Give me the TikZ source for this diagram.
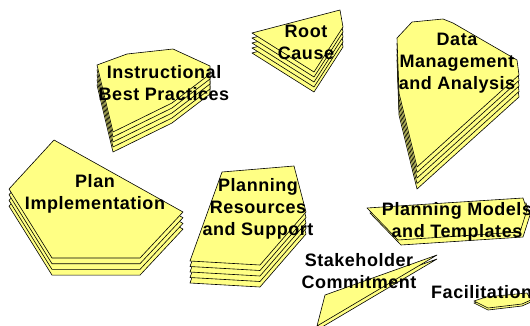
\documentclass[tikz,border=0pt]{standalone}
\usepackage{fontspec}
\setmainfont{Liberation Sans}[LetterSpace=3]

\definecolor{paper}{RGB}{255,255,132}

\begin{document}
\begin{tikzpicture}[
  x=1pt, y=-1pt,
  sheet/.style = {draw=black, fill=paper, line width=0.6pt, line join=round},
  topic/.style = {font=\bfseries\fontsize{18}{22}\selectfont, align=center, inner sep=0pt}
    ]
  \useasboundingbox (0,0) rectangle (530,325);
  % stacked sheets
  \foreach \k in {4,...,0}
    \draw[sheet, yshift=-\k*5pt] (97,65) -- (127,54) -- (173,49) -- (210,66) -- (210,74) -- (172,103) -- (113,132) -- cycle;
  \foreach \k in {4,...,0}
    \draw[sheet, yshift=-\k*5pt] (252,33) -- (340,10) -- (343,27) -- (314,72) -- cycle;
  \foreach \k in {4,...,0}
    \draw[sheet, yshift=-\k*5.5pt] (397,38) -- (412,22) -- (443,19) -- (453,23) -- (517,60) -- (519,75) -- (417,167) -- (399,93) -- cycle;
  \foreach \k in {3,...,0}
    \draw[sheet, yshift=-\k*5.7pt] (9,189) -- (54,140) -- (183,212) -- (140,258) -- (52,258) -- cycle;
  \foreach \k in {4,...,0}
    \draw[sheet, yshift=-\k*5.5pt] (222,172) -- (294,166) -- (306,212) -- (260,265) -- (190,261) -- cycle;
  \foreach \k in {1,0}
    \draw[sheet, xshift=\k*3pt, yshift=-\k*5pt] (367,208) -- (523,198) -- (527,210) -- (520,232) -- (398,240) -- cycle;
  \foreach \k in {1,0}
    \draw[sheet, yshift=-\k*4pt] (437,255) -- (325,295) -- (317,326) -- cycle;
  \foreach \k in {1,0}
    \draw[sheet, yshift=-\k*2pt] (474,301) -- (486,297) -- (527,293) -- (531,300) -- (522,304) -- (488,308) -- cycle;
  % labels
  \node[topic] (instr) at (164,83) {Instructional\\Best Practices};
  \node[topic] (root) at (306,42) {Root\\Cause};
  \node[topic] (data) at (457,63) {Data\\Management\\and Analysis};
  \node[topic] (impl) at (95,194) {Plan\\Implementation};
  \node[topic] (res) at (258,209) {Planning\\Resources\\and Support};
  \node[topic] (models) at (457,222) {Planning Models\\and Templates};
  \node[topic] (stake) at (359,271) {Stakeholder\\Commitment};
  \node[topic, anchor=west] (facil) at (431,292) {Facilitation};
\end{tikzpicture}
\end{document}
